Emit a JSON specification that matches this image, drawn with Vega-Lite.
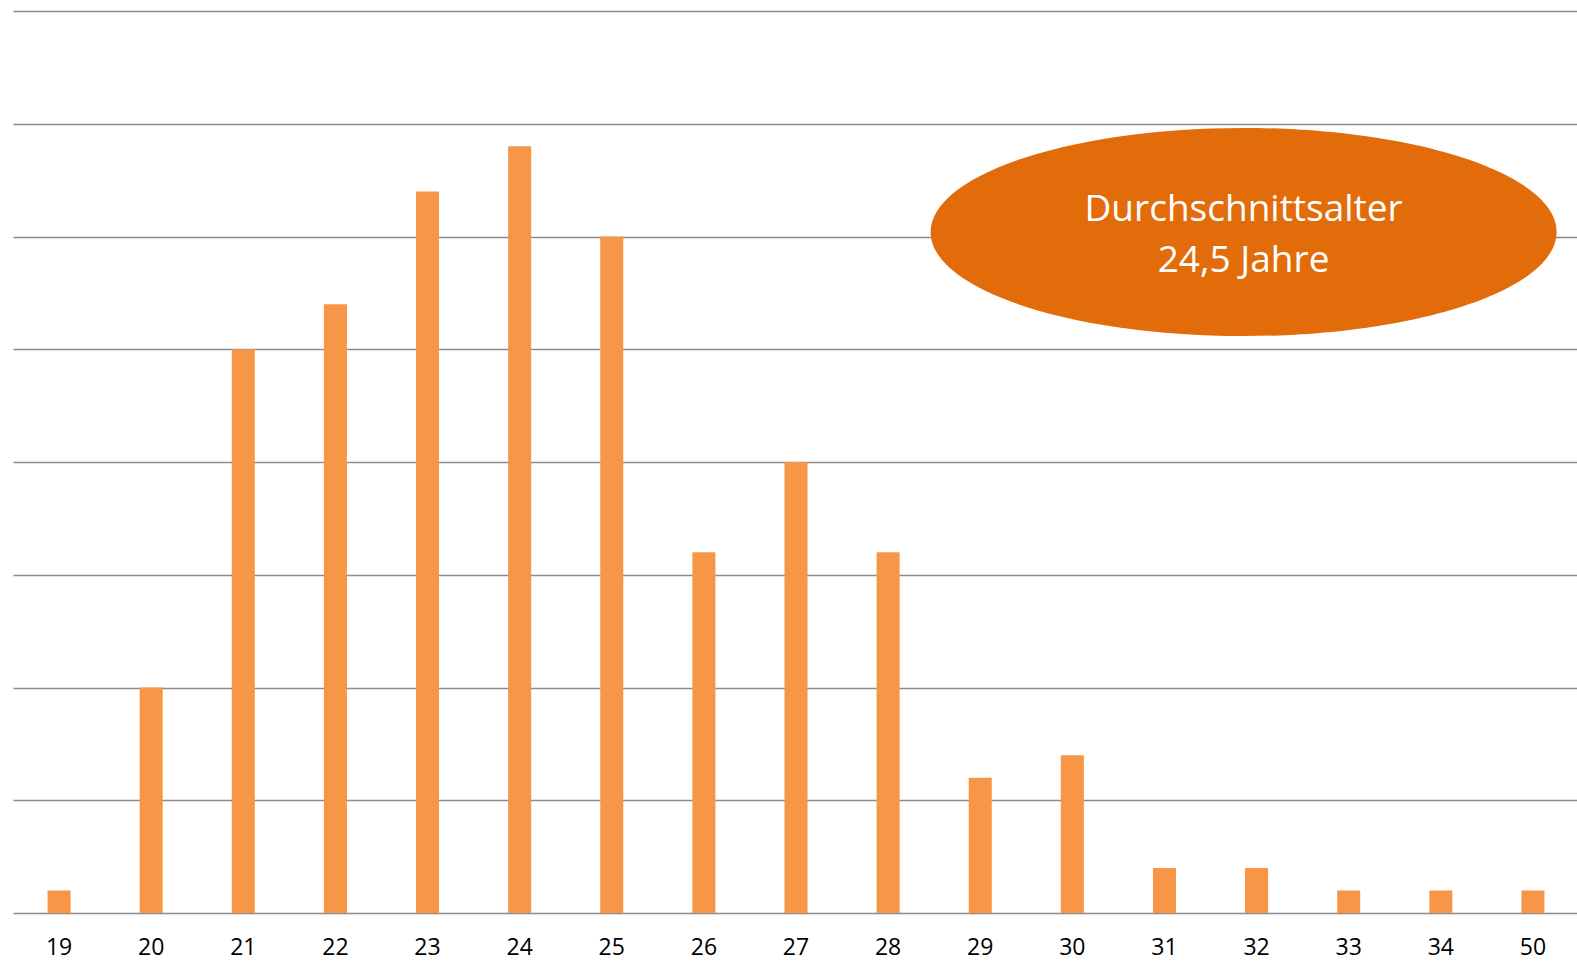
{
  "$schema": "https://vega.github.io/schema/vega-lite/v6.json",
  "autosize": "none",
  "width": 1566,
  "height": 902,
  "padding": {"left": 13, "top": 11, "right": 0, "bottom": 53},
  "background": "white",
  "config": {
    "view": {"stroke": null},
    "font": "Open Sans"
  },
  "layer": [
    {
      "data": {
        "values": [
          {"age": "19", "count": 1},
          {"age": "20", "count": 10},
          {"age": "21", "count": 25},
          {"age": "22", "count": 27},
          {"age": "23", "count": 32},
          {"age": "24", "count": 34},
          {"age": "25", "count": 30},
          {"age": "26", "count": 16},
          {"age": "27", "count": 20},
          {"age": "28", "count": 16},
          {"age": "29", "count": 6},
          {"age": "30", "count": 7},
          {"age": "31", "count": 2},
          {"age": "32", "count": 2},
          {"age": "33", "count": 1},
          {"age": "34", "count": 1},
          {"age": "50", "count": 1}
        ]
      },
      "mark": {"type": "bar", "color": "#F79646"},
      "encoding": {
        "x": {
          "field": "age",
          "type": "nominal",
          "sort": null,
          "scale": {"paddingInner": 0.75, "paddingOuter": 0.375},
          "axis": {
            "title": null,
            "domain": false,
            "ticks": false,
            "labelAngle": 0,
            "labelFontSize": 23,
            "labelColor": "#000000",
            "labelPadding": 23,
            "labelFont": "Open Sans"
          }
        },
        "y": {
          "field": "count",
          "type": "quantitative",
          "scale": {"domain": [0, 40], "nice": false},
          "axis": {
            "title": null,
            "labels": false,
            "ticks": false,
            "domain": false,
            "values": [0, 5, 10, 15, 20, 25, 30, 35, 40],
            "grid": true,
            "gridColor": "#8c8c8c",
            "gridWidth": 1.6
          }
        }
      }
    },
    {
      "data": {"values": [{"age": "32", "count": 30.2, "label": ["Durchschnittsalter", "24,5 Jahre"]}]},
      "layer": [
        {
          "mark": {
            "type": "point",
            "filled": true,
            "opacity": 1,
            "color": "#E36C0A",
            "strokeWidth": 0,
            "size": 391876,
            "shape": "M -1.0415 0 C -1.0415 -0.1835 -0.5938 -0.3323 -0.0415 -0.3323 C 0.5108 -0.3323 0.9585 -0.1835 0.9585 0 C 0.9585 0.1835 0.5108 0.3323 -0.0415 0.3323 C -0.5938 0.3323 -1.0415 0.1835 -1.0415 0 Z"
          },
          "encoding": {
            "x": {"field": "age", "type": "nominal", "sort": null},
            "y": {"field": "count", "type": "quantitative"}
          }
        },
        {
          "mark": {
            "type": "text",
            "color": "white",
            "font": "Open Sans",
            "fontSize": 37,
            "lineHeight": 51,
            "align": "center",
            "baseline": "middle",
            "dx": -13,
            "dy": -22
          },
          "encoding": {
            "x": {"field": "age", "type": "nominal", "sort": null},
            "y": {"field": "count", "type": "quantitative"},
            "text": {"field": "label"}
          }
        }
      ]
    }
  ]
}
